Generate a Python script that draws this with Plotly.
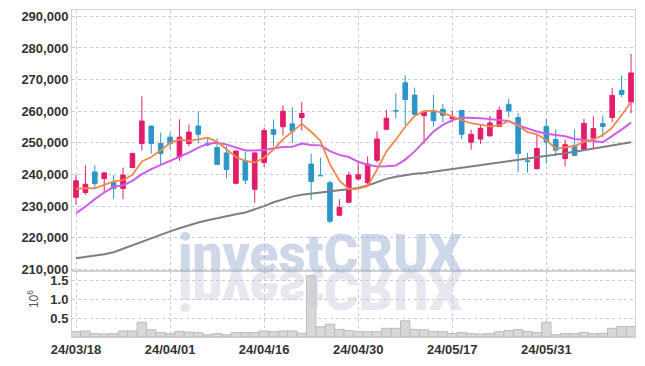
import plotly.graph_objects as go
from plotly.subplots import make_subplots

dates = ["24/03/18", "24/03/19", "24/03/20", "24/03/21", "24/03/22", "24/03/25", "24/03/26", "24/03/27", "24/03/28", "24/03/29",
         "24/04/01", "24/04/02", "24/04/03", "24/04/04", "24/04/05", "24/04/08", "24/04/09", "24/04/11", "24/04/12", "24/04/15",
         "24/04/16", "24/04/17", "24/04/18", "24/04/19", "24/04/22", "24/04/23", "24/04/24", "24/04/25", "24/04/26", "24/04/29",
         "24/04/30", "24/05/02", "24/05/03", "24/05/07", "24/05/08", "24/05/09", "24/05/10", "24/05/13", "24/05/14", "24/05/16",
         "24/05/17", "24/05/20", "24/05/21", "24/05/22", "24/05/23", "24/05/24", "24/05/27", "24/05/28", "24/05/29", "24/05/30",
         "24/05/31", "24/06/03", "24/06/04", "24/06/05", "24/06/07", "24/06/10", "24/06/11", "24/06/12", "24/06/13", "24/06/14"]

tick_labels = ["24/03/18", "24/04/01", "24/04/16", "24/04/30", "24/05/17", "24/05/31"]

open_ = [232800, 234300, 240800, 238700, 237400, 235600, 242200, 249800, 255300, 249800,
         251800, 245500, 249800, 255300, 249700, 248500, 246800, 237200, 244300, 235300,
         243800, 254200, 255100, 256000, 258000, 243300, 239700, 237400, 227100, 231200,
         238600, 237400, 244500, 254300, 260200, 269000, 265100, 258600, 260200, 260600,
         257700, 260200, 250200, 251200, 252200, 255200, 262200, 258000, 244300, 241800,
         255200, 251100, 245000, 249100, 247900, 251500, 256100, 258000, 266600, 262900]
high = [239800, 242900, 242900, 240700, 239800, 242200, 246900, 264700, 255500, 253200,
        253200, 257400, 255800, 260000, 251400, 251400, 249000, 247600, 247100, 247100,
        254800, 257400, 261900, 261300, 262900, 246600, 245300, 238000, 232200, 240900,
        244300, 245700, 253600, 260400, 265600, 271400, 267500, 260200, 265100, 262300,
        260200, 260200, 254100, 255700, 258500, 261500, 263900, 259400, 246800, 252600,
        257600, 254200, 251000, 254200, 257600, 258400, 258700, 267300, 271300, 278100]
low = [230500, 233600, 235700, 234300, 232200, 232200, 242000, 247600, 246600, 243200,
       248000, 244300, 249000, 249800, 248900, 243000, 238800, 236900, 236900, 231000,
       242400, 249000, 252300, 250000, 253900, 232000, 239500, 224600, 226800, 231000,
       238000, 236800, 243800, 254100, 257800, 255700, 258300, 249700, 255100, 256400,
       256400, 251200, 247800, 249700, 252000, 255000, 258000, 240800, 240600, 241600,
       243500, 245800, 242600, 245900, 247700, 248100, 251700, 256600, 264500, 259400]
close = [238000, 236900, 237100, 240500, 235600, 239800, 246600, 256900, 249800, 246600,
         249800, 251800, 253400, 252700, 249400, 243200, 241600, 247400, 238200, 246800,
         253900, 252700, 260000, 253700, 259300, 237800, 239600, 225200, 229600, 239800,
         239900, 243300, 251200, 257800, 260100, 263700, 259000, 259700, 257000, 258700,
         258100, 252700, 252700, 254600, 256300, 260300, 260100, 246600, 244100, 248200,
         250200, 247700, 249400, 246000, 256100, 254500, 255200, 265000, 265300, 272100]

ma5 = [235400, 235700, 235600, 236700, 237800, 238200, 239900, 244100, 245500, 247600,
       250000, 251100, 250600, 251100, 251600, 250300, 247900, 245500, 244300, 243800,
       245300, 247900, 251100, 253700, 256000, 253500, 250600, 243200, 238000, 235400,
       235500, 236300, 241500, 247300, 251000, 255100, 258500, 260000, 260200, 259500,
       258300, 257200, 256200, 255700, 255200, 255500, 256900, 255500, 253400, 252700,
       250800, 248200, 248500, 249000, 250300, 251100, 252400, 254800, 258700, 262900]
ma10 = [227800, 229800, 232200, 234300, 236100, 236600, 238000, 240100, 241700, 243000,
        244300, 245500, 246900, 248500, 249700, 250000, 249500, 248500, 247600, 247600,
        247700, 248300, 248700, 248800, 249800, 249300, 249200, 247400, 246200, 245500,
        244000, 243100, 242500, 242600, 242800, 244700, 247300, 250400, 253600, 255700,
        257200, 258000, 258000, 257800, 257500, 257100, 256900, 255500, 254500, 253600,
        252900, 252400, 252100, 251200, 251000, 250600, 250200, 252100, 254200, 256400]
ma60 = [213500, 213900, 214300, 214800, 215400, 216500, 217700, 218900, 220000, 221000,
        222000, 223000, 224000, 224800, 225500, 226200, 226800, 227400, 228000, 228900,
        230000, 231200, 232200, 233000, 233600, 234000, 234400, 234700, 235000, 235300,
        235700, 236500, 237600, 238600, 239300, 239800, 240200, 240500, 240900, 241300,
        241700, 242100, 242500, 243000, 243500, 243900, 244200, 244500, 244900, 245400,
        245800, 246200, 246700, 247200, 247700, 248200, 248600, 249100, 249600, 250200]

volume_m = [0.14, 0.16, 0.09, 0.08, 0.09, 0.16, 0.16, 0.39, 0.19, 0.12,
            0.09, 0.15, 0.13, 0.12, 0.06, 0.09, 0.06, 0.12, 0.12, 0.12,
            0.16, 0.14, 0.16, 0.16, 0.10, 1.62, 0.27, 0.34, 0.20, 0.17,
            0.15, 0.14, 0.14, 0.23, 0.23, 0.43, 0.20, 0.19, 0.15, 0.14,
            0.09, 0.12, 0.09, 0.08, 0.09, 0.14, 0.17, 0.20, 0.15, 0.12,
            0.39, 0.06, 0.09, 0.09, 0.12, 0.09, 0.10, 0.23, 0.28, 0.28]

price_ticks = list(range(210000, 290001, 10000))
vol_ticks = [0.5, 1.0, 1.5]
vol_tick_text = ["0.5", "1.0", "1.5"]

RED = "#e31c6a"
BLUE = "#2d96c8"
GRID = "#c8ccda"
LINE = "#d2d2d2"
TICKFONT = dict(family="Liberation Sans, Arial, sans-serif",
                size=13, color="#333333", weight="bold")

fig = make_subplots(rows=2, cols=1, shared_xaxes=True, vertical_spacing=0,
                    row_heights=[0.797, 0.203])

fig.add_trace(go.Candlestick(
    x=dates, open=open_, high=high, low=low, close=close,
    increasing=dict(line=dict(color=RED, width=1), fillcolor=RED),
    decreasing=dict(line=dict(color=BLUE, width=1), fillcolor=BLUE),
    hoverinfo="skip", showlegend=False), row=1, col=1)
fig.add_trace(go.Scatter(x=dates, y=ma60, mode="lines", line=dict(color="#7f7f7f", width=2),
                         hoverinfo="skip", showlegend=False), row=1, col=1)
fig.add_trace(go.Scatter(x=dates, y=ma10, mode="lines", line=dict(color="#cf5ce8", width=2),
                         hoverinfo="skip", showlegend=False), row=1, col=1)
fig.add_trace(go.Scatter(x=dates, y=ma5, mode="lines", line=dict(color="#f0874c", width=1.8),
                         hoverinfo="skip", showlegend=False), row=1, col=1)
fig.add_trace(go.Bar(x=dates, y=volume_m,
                     marker=dict(color="#d8d8d8", line=dict(color="#bcbcbc", width=1)),
                     hoverinfo="skip", showlegend=False), row=2, col=1)

xcommon = dict(type="category", categoryorder="array", categoryarray=dates,
               range=[-0.425, 59.425], tickvals=tick_labels,
               showgrid=True, gridcolor=GRID, griddash="dot", gridwidth=1,
               showline=True, linecolor=LINE, linewidth=1, mirror=True,
               ticks="", tickfont=TICKFONT, zeroline=False)
fig.update_xaxes(**xcommon)
fig.update_xaxes(showticklabels=False, rangeslider=dict(visible=False), row=1, col=1)
fig.update_xaxes(showticklabels=True, row=2, col=1)

fig.update_yaxes(range=[209600, 292000], tickvals=price_ticks, tickformat=",d",
                 showgrid=True, gridcolor=GRID, griddash="dot", gridwidth=1,
                 showline=True, linecolor=LINE, linewidth=1, mirror=True,
                 ticks="", tickfont=TICKFONT, zeroline=False, row=1, col=1)
fig.update_yaxes(range=[0, 1.755], tickvals=vol_ticks, ticktext=vol_tick_text,
                 showgrid=True, gridcolor=GRID, griddash="dot", gridwidth=1,
                 showline=True, linecolor=LINE, linewidth=1, mirror=True,
                 ticks="", tickfont=TICKFONT, zeroline=False, row=2, col=1)

WM_FONT = dict(family="Roboto, DejaVu Sans, sans-serif", size=53, weight=900)
fig.add_annotation(text="investCRUX", xref="paper", yref="paper", x=0.1847, y=0.153,
                   xanchor="left", yanchor="bottom", showarrow=False,
                   font=dict(color="rgba(160,178,212,0.5)", **WM_FONT))
fig.add_annotation(text="investCRUX", xref="paper", yref="paper", x=0.1847, y=0.153,
                   xanchor="left", yanchor="bottom", showarrow=False,
                   font=dict(color="rgba(196,198,218,0.42)", **WM_FONT))
fig.add_annotation(text="10<sup>6</sup>", xref="paper", yref="paper", x=-0.068, y=0.115,
                   xanchor="center", yanchor="middle", showarrow=False, textangle=-90,
                   font=dict(family="Liberation Sans, Arial, sans-serif",
                             size=12, color="#555555"))

fig.update_layout(width=645, height=366, autosize=False,
                  margin=dict(l=72, r=10, t=9, b=27),
                  plot_bgcolor="white", paper_bgcolor="white",
                  bargap=0, showlegend=False, hovermode=False)

flip_js = """
document.body.style.margin = '0';
document.body.style.padding = '0';
var gd = document.getElementById('{plot_id}');
function flipRefl(){
  var fl = gd._fullLayout;
  var Y = fl.yaxis._offset + fl.yaxis._length + 1.3;
  var a = gd.querySelector('g.annotation[data-index="1"]');
  if (a) { a.setAttribute('transform', 'translate(0,' + (2*Y) + ') scale(1,-1)'); }
}
flipRefl();
"""
fig.write_html("out.html", post_script=flip_js, config={"displayModeBar": False, "staticPlot": True})
